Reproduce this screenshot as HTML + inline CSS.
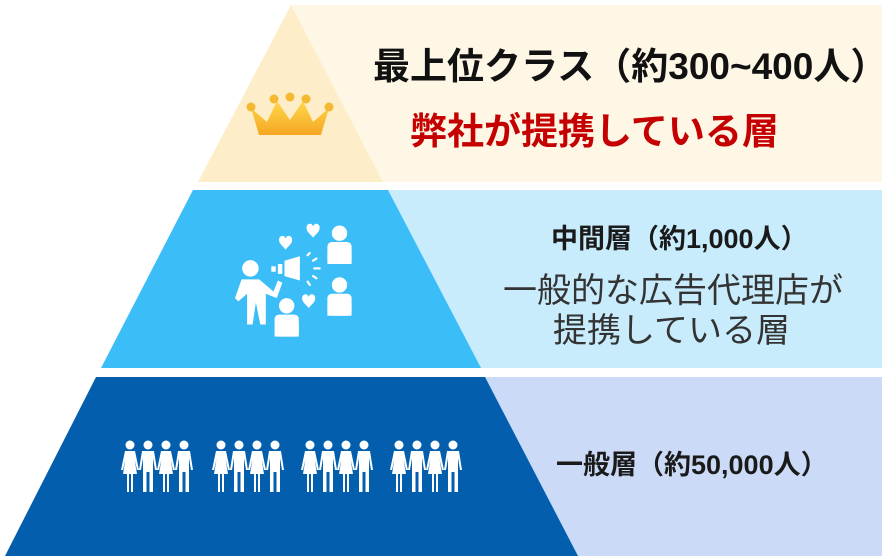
<!DOCTYPE html>
<html><head><meta charset="utf-8"><style>
html,body{margin:0;padding:0;background:#fff;}
body{width:882px;height:556px;position:relative;overflow:hidden;font-family:"Liberation Sans","Noto Sans CJK JP",sans-serif;}
.t{position:absolute;white-space:nowrap;line-height:1;}
</style></head><body>
<svg width="882" height="556" style="position:absolute;left:0;top:0">
<defs>
<linearGradient id="g" x1="0" y1="0" x2="0" y2="1"><stop offset="0" stop-color="#ffd84a"/><stop offset="1" stop-color="#f5a623"/></linearGradient>
<symbol id="m" viewBox="0 0 18 52">
<circle cx="9" cy="5" r="4.5" fill="#fff"/>
<path d="M3 11 H15 L18 30 H16 L14 18 V52 H10.5 V32 H7.5 V52 H4 V18 L2 30 H0 Z" fill="#fff"/>
</symbol>
<symbol id="w" viewBox="0 0 18 52">
<circle cx="9" cy="5" r="4.5" fill="#fff"/>
<path d="M4 11 H14 L18 30 H16 L13.5 19 L16 34 H12 V52 H10 V34 H8 V52 H6 V34 H2 L4.5 19 L2 30 H0 Z" fill="#fff"/>
</symbol>
<g id="grp"><use href="#w" x="0" y="0" width="18" height="52"/><use href="#m" x="18" y="0" width="18" height="52"/><use href="#w" x="36" y="0" width="18" height="52"/><use href="#m" x="54" y="0" width="18" height="52"/></g>
<path id="h" d="M0 3 C0 -1 5 -2 6 2 C7 -2 12 -1 12 3 C12 7 8 9 6 12 C4 9 0 7 0 3Z" fill="#fff"/>
<g id="p"><circle cx="11" cy="7" r="7" fill="#fff"/><rect x="0" y="15" width="22" height="20" rx="4" fill="#fff"/><rect x="0" y="25" width="22" height="10" fill="#fff"/></g>
</defs>
<rect x="291" y="5" width="591" height="177" fill="#fef7e6"/>
<polygon points="291,5 383,182 198,182" fill="#fdeec9"/>
<rect x="388" y="190" width="494" height="178" fill="#c8ecfb"/>
<polygon points="193,190 388,190 481,368 101,368" fill="#3bbdf8"/>
<rect x="485" y="377" width="397" height="179" fill="#cbdaf6"/>
<polygon points="96,377 485,377 578,556 5,556" fill="#035fad"/>
<g>
<path d="M251 108 L267 122 L277 101 L290 120 L303 101 L313 122 L329 108 L321 135 H259 Z" fill="url(#g)"/>
<circle cx="251" cy="107" r="4.5" fill="#f5b830"/><circle cx="274" cy="99" r="4.5" fill="#f5b830"/><circle cx="290" cy="97" r="4.5" fill="#f5b830"/><circle cx="306" cy="99" r="4.5" fill="#f5b830"/><circle cx="329" cy="107" r="4.5" fill="#f5b830"/>
</g>
<g transform="translate(290,275) scale(1.1) translate(-290,-275)">
<circle cx="254" cy="269" r="7.5" fill="#fff"/>
<path d="M246 279 H262 L275 290 L279 280 L283 282 L278 296 L268 292 V320 H263 L259 300 L256 320 H251 V292 L243 299 L240 296 Z" fill="#fff"/>
<path d="M273 267 H277 V272 H273Z M279 265 H283 V274 H279Z M285 262 L299 258 V280 L285 276Z" fill="#fff"/>
<path d="M306 257 L308 255 M311 262 L314 260 M312 269 H317 M311 276 L314 278 M306 281 L308 284" stroke="#fff" stroke-width="2" stroke-linecap="round"/>
<use href="#h" x="280" y="240"/><use href="#h" x="305" y="229"/><use href="#h" x="301" y="293"/>
<use href="#p" x="324" y="230"/><use href="#p" x="324" y="277"/><use href="#p" x="276" y="296"/>
</g>
<use href="#grp" x="121" y="440"/><use href="#grp" x="212" y="440"/><use href="#grp" x="301" y="440"/><use href="#grp" x="390" y="440"/>
</svg>
<div class="t" style="left:373px;top:48px;font-size:37px;font-weight:bold;color:#111;">最上位クラス（約300~400人）</div>
<div class="t" style="left:410px;top:113px;font-size:37px;font-weight:bold;color:#c50000;">弊社が提携している層</div>
<div class="t" style="left:551px;top:226px;font-size:27px;font-weight:bold;color:#1a1a1a;">中間層（約1,000人）</div>
<div class="t" style="left:503px;top:274px;font-size:34px;color:#333;">一般的な広告代理店が</div>
<div class="t" style="left:553px;top:314px;font-size:34px;color:#333;">提携している層</div>
<div class="t" style="left:556px;top:452px;font-size:27px;font-weight:bold;color:#1a1a1a;">一般層（約50,000人）</div>
</body></html>
